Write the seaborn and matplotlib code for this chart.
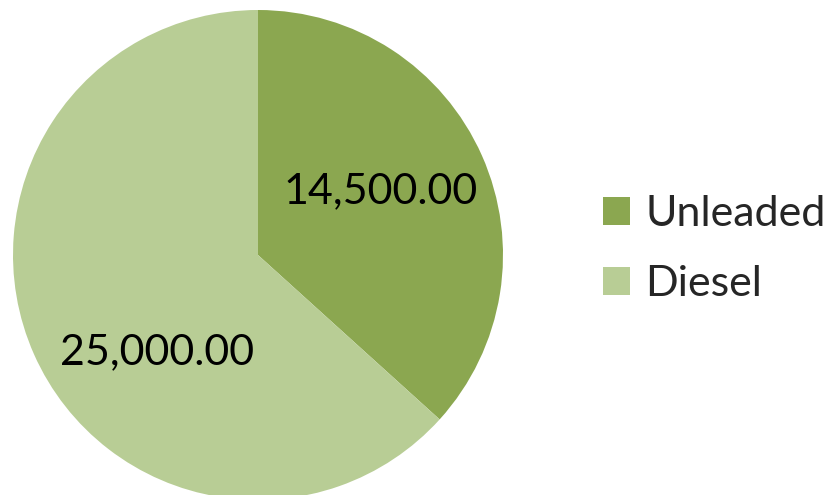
import seaborn as sns
import matplotlib.pyplot as plt

# data
fuels = ['Unleaded', 'Diesel']
amounts = [14500.00, 25000.00]
colors = ['#8BA750', '#B8CD95']

sns.set_theme(style='white')
plt.rcParams['font.family'] = ['Lato', 'DejaVu Sans']

fig = plt.figure(figsize=(8.32, 4.95), dpi=100)
ax = fig.add_axes([13 / 832, -5 / 495, 490 / 832, 490 / 495])

wedges, _ = ax.pie(amounts, colors=colors, startangle=90, counterclock=False,
                   radius=1, wedgeprops={'linewidth': 0})
ax.set_xlim(-1, 1)
ax.set_ylim(-1, 1)
ax.set_aspect('equal')
ax.axis('off')

# value labels inside slices
label_pos = [(0.50, 0.26), (-0.41, -0.395)]
for (x, y), v in zip(label_pos, amounts):
    ax.text(x, y, f'{v:,.2f}', ha='center', va='center', fontsize=31, color='black')

leg = fig.legend(wedges, fuels, loc='center left', bbox_to_anchor=(603 / 832, 1 - 249 / 495),
                 frameon=False, fontsize=31, handlelength=0.63, handleheight=0.63,
                 handletextpad=0.35, labelspacing=0.75, borderpad=0, borderaxespad=0)

fig.savefig('out.png', dpi=100)
